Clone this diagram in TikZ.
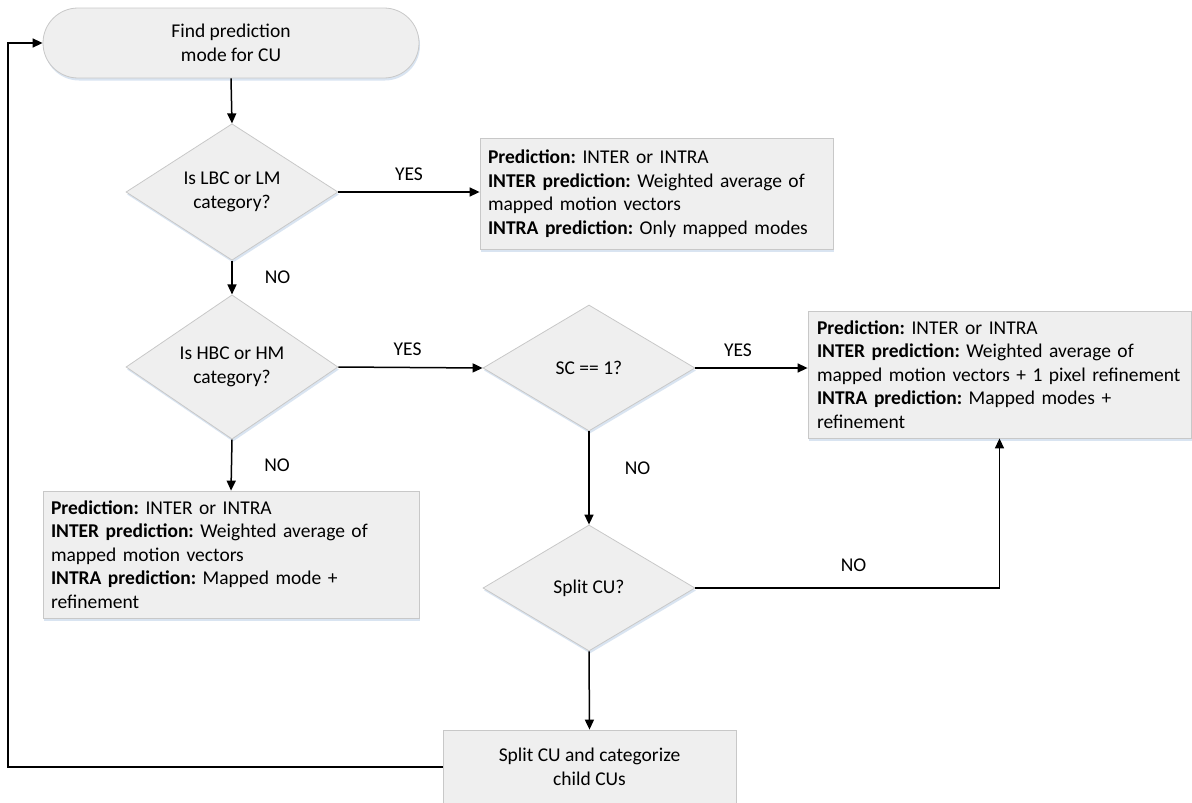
\documentclass[tikz,border=0pt]{standalone}
\usepackage{fontspec}
\setmainfont{Carlito}
\usetikzlibrary{shapes.geometric,arrows.meta,shadows}
\definecolor{boxfill}{HTML}{EFEFEF}
\definecolor{boxline}{HTML}{C8C8C8}
\definecolor{shadowc}{HTML}{D9E4F1}
\frenchspacing
\begin{document}
\begin{tikzpicture}[x=1pt,y=-1pt,
  font=\fontsize{19.5}{23.5}\selectfont,
  shapebase/.style={draw=boxline, fill=boxfill, line width=0.8pt,
    drop shadow={shadow xshift=1pt, shadow yshift=-2.5pt, fill=shadowc, opacity=1}},
  infobox/.style={shapebase, rectangle, inner xsep=8pt, inner ysep=0pt, align=left},
  decision/.style={shapebase, diamond, inner sep=0pt, minimum width=212pt, minimum height=126pt, align=center},
  arr/.style={line width=1.5pt, -{Triangle[length=10pt,width=9pt]}},
  lbl/.style={inner sep=0pt}
]
\useasboundingbox (0,0) rectangle (1192,803);

% nodes
\node[shapebase, rectangle, rounded corners=35pt, minimum width=376pt, minimum height=70pt, align=center, inner sep=0pt]
  (start) at (231,43) {Find prediction\\mode for CU};

\node[decision] (d1) at (232,192) {Is LBC or LM\\category?};
\node[decision] (d2) at (232,367) {Is HBC or HM\\category?};
\node[decision] (sc) at (589,368) {SC == 1?};
\node[decision] (sp) at (589,588) {Split CU?};

\node[infobox, text width=337pt, minimum height=111pt] (b1) at (656.5,193.5)
  {\mbox{\textbf{Prediction:} INTER or INTRA}\\
   \mbox{\textbf{INTER prediction:} Weighted average of}\\
   \mbox{mapped motion vectors}\\
   \mbox{\textbf{INTRA prediction:} Only mapped modes}};

\node[infobox, inner xsep=9pt, text width=365pt, minimum height=127pt] (b2) at (999.5,374.5)
  {\mbox{\textbf{Prediction:} INTER or INTRA}\\
   \mbox{\textbf{INTER prediction:} Weighted average of}\\
   \mbox{mapped motion vectors + 1 pixel refinement}\\
   \mbox{\textbf{INTRA prediction:} Mapped modes +}\\
   refinement};

\node[infobox, text width=360pt, minimum height=127pt] (b3) at (231,554.5)
  {\mbox{\textbf{Prediction:} INTER or INTRA}\\
   \mbox{\textbf{INTER prediction:} Weighted average of}\\
   \mbox{mapped motion vectors}\\
   \mbox{\textbf{INTRA prediction:} Mapped mode +}\\
   refinement};

\node[shapebase, rectangle, minimum width=293pt, minimum height=74pt, align=center, inner sep=0pt]
  (bot) at (589.5,767) {Split CU and categorize\\child CUs};

\coordinate (loopx) at (8,0);

% connectors
\draw[arr] (start.south) -- (d1.north);
\draw[arr] (d1.east) -- node[lbl, above=11pt] {YES} (d1.east -| b1.west);
\draw[arr] (d1.south) -- node[lbl, right=32pt] {NO} (d2.north);
\draw[arr] (d2.east) -- node[lbl, above=11pt, pos=.48] {YES} (sc.west);
\draw[arr] (d2.south) -- node[lbl, right=32pt] {NO} (b3.north);
\draw[arr] (sc.east) -- node[lbl, above=11pt, pos=.38] {YES} (sc.east -| b2.west);
\draw[arr] (sc.south) -- node[lbl, right=35pt, pos=.39] {NO} (sp.north);
\draw[arr] (sp.east) -| node[lbl, above=16pt, pos=.26] {NO} (b2.south);
\draw[arr] (sp.south) -- (bot.north);
\draw[arr] (bot.west) -- (bot.west -| loopx) |- (start.west);
\end{tikzpicture}
\end{document}
